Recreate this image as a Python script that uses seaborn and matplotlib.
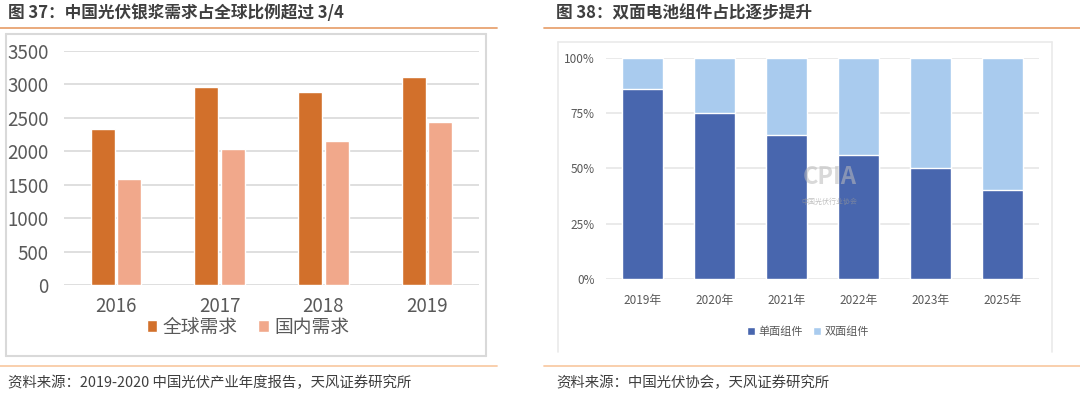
import pandas as pd
import seaborn as sns
import matplotlib.pyplot as plt
from matplotlib.lines import Line2D

sns.set_theme(style="white")
plt.rcParams['font.family'] = ['Noto Sans CJK SC', 'DejaVu Sans']

# left chart data
years = ['2016', '2017', '2018', '2019']
global_demand = [2330, 2960, 2890, 3110]
china_demand = [1590, 2030, 2160, 2440]
series_left = ['全球需求', '国内需求']

# right chart data
years_r = ['2019年', '2020年', '2021年', '2022年', '2023年', '2025年']
mono = [86, 75, 65, 56, 50, 40]
bifacial = [14, 25, 35, 44, 50, 60]
series_right = ['单面组件', '双面组件']

W, H = 1080, 395
fig = plt.figure(figsize=(W / 100, H / 100), dpi=100)
fig.patch.set_facecolor('white')


def px_axes(left, top, right, bottom):
    return fig.add_axes([left / W, 1 - bottom / H, (right - left) / W, (bottom - top) / H])


def hline(x0, x1, y, color, lw):
    fig.add_artist(Line2D([x0 / W, x1 / W], [1 - y / H, 1 - y / H], color=color, lw=lw))


def vline(x, y0, y1, color, lw):
    fig.add_artist(Line2D([x / W, x / W], [1 - y0 / H, 1 - y1 / H], color=color, lw=lw))


title_c = '#3f3f3f'
tick_c = '#595959'

# titles, rules and sources
fig.text(8 / W, 1 - 13 / H, '图 37：中国光伏银浆需求占全球比例超过 3/4', fontsize=12,
         fontweight='bold', color=title_c, va='center')
fig.text(556 / W, 1 - 13 / H, '图 38：双面电池组件占比逐步提升', fontsize=12,
         fontweight='bold', color=title_c, va='center')
hline(0, 497, 27.5, '#E8A472', 1.3)
hline(544, 1080, 27.5, '#E8A472', 1.3)
hline(0, 497, 366, '#F9CBA6', 1.3)
hline(544, 1080, 366, '#F9CBA6', 1.3)
fig.text(8 / W, 1 - 383 / H, '资料来源：2019-2020 中国光伏产业年度报告，天风证券研究所',
         fontsize=10.4, color=title_c, va='center')
fig.text(556 / W, 1 - 383 / H, '资料来源：中国光伏协会，天风证券研究所',
         fontsize=10.4, color=title_c, va='center')

# frames
fc = '#D9D9D9'
hline(6, 486, 33.5, fc, 1.5)
hline(6, 486, 356, fc, 1.5)
vline(6, 33.5, 356, fc, 1.5)
vline(486, 33.5, 356, fc, 1.5)
fc2 = '#EAEAEA'
hline(558, 1052, 42, fc2, 1.2)
vline(558, 42, 352, fc2, 1.2)
vline(1052, 42, 352, fc2, 1.2)

# ---- left: grouped bars
df_l = pd.DataFrame({'year': years * 2,
                     'value': global_demand + china_demand,
                     'series': [series_left[0]] * 4 + [series_left[1]] * 4})
ax1 = px_axes(64, 51, 479, 285)
sns.barplot(data=df_l, x='year', y='value', hue='series', hue_order=series_left,
            palette=['#D2702B', '#F1A88B'], width=0.51, gap=0.1, ax=ax1,
            saturation=1, legend=True)
ax1.set_ylim(0, 3500)
ax1.set_yticks(range(0, 3501, 500))
ax1.set_xlim(-0.5, 3.5)
ax1.grid(axis='y', color='#D9D9D9', lw=1.2)
ax1.set_axisbelow(True)
for s in ax1.spines.values():
    s.set_visible(False)
ax1.tick_params(axis='y', length=0, pad=11, labelsize=13.5, labelcolor=tick_c)
ax1.tick_params(axis='x', length=0, pad=8, labelsize=13.5, labelcolor=tick_c)
ax1.set_xlabel('')
ax1.set_ylabel('')
h1, l1 = ax1.get_legend_handles_labels()
ax1.get_legend().remove()
fig.legend(h1, l1, loc='center', bbox_to_anchor=(248 / W, 1 - 327 / H), ncol=2,
           frameon=False, fontsize=13.5, labelcolor=tick_c, handlelength=0.55,
           handleheight=0.55, handletextpad=0.3, columnspacing=1.1)

# ---- right: stacked 100% bars
df_r = pd.DataFrame({'year': years_r, 'mono': mono, 'bifacial': bifacial})
df_r['total'] = df_r['mono'] + df_r['bifacial']
ax2 = px_axes(606, 57.7, 1039, 279)
sns.barplot(data=df_r, x='year', y='total', color='#A9CBEE', width=0.57, saturation=1,
            ax=ax2, label=series_right[1])
sns.barplot(data=df_r, x='year', y='mono', color='#4866AE', width=0.57, saturation=1,
            ax=ax2, label=series_right[0])
ax2.set_ylim(0, 100)
ax2.set_yticks([0, 25, 50, 75, 100])
ax2.set_yticklabels(['0%', '25%', '50%', '75%', '100%'])
ax2.set_xlim(-0.5, 5.5)
ax2.grid(axis='y', color='#E6E6E6', lw=1.2)
ax2.set_axisbelow(True)
for s in ax2.spines.values():
    s.set_visible(False)
ax2.tick_params(axis='y', length=0, pad=8, labelsize=8.5, labelcolor=tick_c)
ax2.tick_params(axis='x', length=0, pad=11, labelsize=8.5, labelcolor=tick_c)
ax2.set_xlabel('')
ax2.set_ylabel('')
h2, l2 = ax2.get_legend_handles_labels()
if ax2.get_legend():
    ax2.get_legend().remove()
order = [l2.index(s) for s in series_right]
fig.legend([h2[i] for i in order], [l2[i] for i in order], loc='center',
           bbox_to_anchor=(808 / W, 1 - 332 / H), ncol=2, frameon=False, fontsize=8,
           labelcolor=tick_c, handlelength=0.7, handleheight=0.7, handletextpad=0.3,
           columnspacing=0.9)

# faint watermark
ax2.text(2.6, 46, 'CPIA', fontsize=17, fontweight='bold', color='#BBBBBB', alpha=0.55,
         ha='center', va='center')
ax2.text(2.6, 35, '中国光伏行业协会', fontsize=5, color='#999999', alpha=0.6,
         ha='center', va='center')

fig.savefig('out.png', dpi=100, facecolor='white')
